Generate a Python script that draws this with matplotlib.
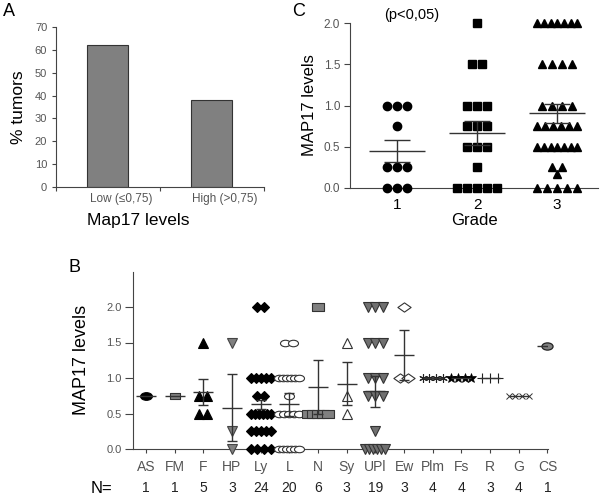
import numpy as np
import matplotlib
matplotlib.use('Agg')
import matplotlib.pyplot as plt
from matplotlib.path import Path
from matplotlib.transforms import Affine2D

plt.rcParams['font.family'] = ['Liberation Sans', 'DejaVu Sans']

# ---------------- data ----------------
# Panel A
a_categories = ['Low (\u22640,75)', 'High (>0,75)']
a_values = [62.0, 38.0]

# Panel C
c_grades = ['1', '2', '3']
c_grade1 = [0, 0, 0, 0.25, 0.25, 0.25, 0.75, 1, 1, 1]
c_grade2 = [0, 0, 0, 0, 0, 0.25, 0.5, 0.5, 0.5, 0.75, 0.75, 0.75,
            1, 1, 1, 1.5, 1.5, 2]
c_grade3 = [0, 0, 0, 0, 0, 0.17, 0.25, 0.25,
            0.5, 0.5, 0.5, 0.5, 0.5, 0.5, 0.5,
            0.75, 0.75, 0.75, 0.75, 0.75, 0.75,
            1, 1, 1, 1, 1.5, 1.5, 1.5, 1.5,
            2, 2, 2, 2, 2, 2, 2]
c_means = [0.45, 0.67, 0.905]
c_sems = [0.135, 0.145, 0.115]

# Panel B
b_categories = ['AS', 'FM', 'F', 'HP', 'Ly', 'L', 'N', 'Sy', 'UPl', 'Ew',
                'Plm', 'Fs', 'R', 'G', 'CS']
b_n = [1, 1, 5, 3, 24, 20, 6, 3, 19, 3, 4, 4, 3, 4, 1]
b_values = [
    [0.75],
    [0.75],
    [1.5, 0.75, 0.75, 0.5, 0.5],
    [1.5, 0.25, 0.0],
    [2, 2, 1, 1, 1, 1, 1, 0.75, 0.75, 0.5, 0.5, 0.5, 0.5, 0.5, 0.5,
     0.25, 0.25, 0.25, 0.25, 0.25, 0, 0, 0, 0],
    [1.5, 1.5, 1, 1, 1, 1, 1, 1, 0.75, 0.5, 0.5, 0.5, 0.5, 0.5,
     0, 0, 0, 0, 0, 0],
    [2, 0.5, 0.5, 0.5, 0.5, 0.5],
    [1.5, 0.75, 0.5],
    [2, 2, 2, 1.5, 1.5, 1.5, 1, 1, 1, 0.75, 0.75, 0.75, 0.25,
     0, 0, 0, 0, 0, 0],
    [2, 1, 1],
    [1, 1, 1, 1],
    [1, 1, 1, 1],
    [1, 1, 1],
    [0.75, 0.75, 0.75, 0.75],
    [1.45],
]
b_means = [0.75, 0.75, 0.80, 0.58, 0.63, 0.63, 0.87, 0.92, 0.81, 1.32,
           1.0, 1.0, 1.0, 0.75, 1.45]
b_sems = [0, 0, 0.18, 0.47, 0.065, 0.16, 0.38, 0.30, 0.22, 0.35,
          0, 0, 0, 0, 0]

# ---------------- helpers ----------------
def swarm(values, spacing, maxspan):
    values = np.asarray(values, float)
    offs = np.zeros(len(values))
    for v in np.unique(values):
        idx = np.where(values == v)[0]
        n = len(idx)
        if n > 1:
            s = min(spacing, maxspan / (n - 1))
            offs[idx] = (np.arange(n) - (n - 1) / 2) * s
    return offs

ellipse = Affine2D().scale(1, 0.65).transform_path(Path.unit_circle())
rect = Path([(-1, -0.65), (1, -0.65), (1, 0.65), (-1, 0.65), (-1, -0.65)],
            [Path.MOVETO, Path.LINETO, Path.LINETO, Path.LINETO, Path.CLOSEPOLY])
wdiamond = Path([(1, 0), (0, 0.7), (-1, 0), (0, -0.7), (1, 0)],
                [Path.MOVETO, Path.LINETO, Path.LINETO, Path.LINETO, Path.CLOSEPOLY])

GREY_TXT = '#555555'
SPINE = '#444444'
LINE = '#333333'

fig = plt.figure(figsize=(6, 4.96), dpi=100)

# ---------------- Panel A ----------------
axA = fig.add_axes([55.5 / 600, 1 - 187 / 496, 208 / 600, 160 / 496])
xa = np.arange(len(a_categories))
axA.bar(xa, a_values, width=0.4, color='#808080', edgecolor='#333333',
        linewidth=0.8)
axA.set_xlim(-0.5, 1.5)
axA.set_ylim(0, 70)
axA.set_yticks(np.arange(0, 71, 10))
axA.set_xticks([-0.5, 0.5, 1.5])
axA.set_xticklabels([])
for s in ['top', 'right']:
    axA.spines[s].set_visible(False)
for s in ['left', 'bottom']:
    axA.spines[s].set_color(SPINE)
axA.tick_params(axis='y', direction='out', length=3, color=SPINE,
                labelsize=8, labelcolor=GREY_TXT, pad=3)
axA.tick_params(axis='x', direction='out', length=3, color=SPINE)
for i, lab in enumerate(a_categories):
    axA.text(i + 0.13, -0.075, lab, transform=axA.get_xaxis_transform(),
             ha='center', va='center', fontsize=8.5, color=GREY_TXT)
axA.set_ylabel('% tumors', fontsize=12.5, labelpad=6)
fig.text(138 / 600, 1 - 221 / 496, 'Map17 levels', ha='center', va='center',
         fontsize=12.5)
fig.text(3 / 600, 1 - 11 / 496, 'A', fontsize=13, ha='left', va='center')

# ---------------- Panel C ----------------
axC = fig.add_axes([350 / 600, 1 - 188 / 496, 248 / 600, 165 / 496])
c_groups = [c_grade1, c_grade2, c_grade3]
c_markers = ['o', 's', '^']
for i, vals in enumerate(c_groups):
    xc = i + 1 + swarm(vals, 0.125, 0.5)
    axC.plot(xc, vals, linestyle='none', marker=c_markers[i], ms=6,
             color='black', clip_on=False, zorder=3)
    m, se = c_means[i], c_sems[i]
    axC.hlines(m, i + 1 - 0.35, i + 1 + 0.35, color=LINE, lw=1, zorder=4)
    axC.vlines(i + 1, m - se, m + se, color=LINE, lw=1, zorder=4)
    axC.hlines([m - se, m + se], i + 1 - 0.16, i + 1 + 0.16, color=LINE,
               lw=1, zorder=4)
axC.set_xlim(0.41, 3.51)
axC.set_ylim(0, 2)
axC.set_yticks([0, 0.5, 1.0, 1.5, 2.0])
axC.set_yticklabels(['0.0', '0.5', '1.0', '1.5', '2.0'])
axC.set_xticks([1, 2, 3])
axC.set_xticklabels(c_grades)
for s in ['top', 'right']:
    axC.spines[s].set_visible(False)
for s in ['left', 'bottom']:
    axC.spines[s].set_color(SPINE)
axC.tick_params(axis='y', direction='out', length=4, color=SPINE,
                labelsize=8.5, labelcolor=GREY_TXT, pad=3)
axC.tick_params(axis='x', direction='out', length=0, labelsize=11,
                labelcolor='black', pad=7)
axC.set_ylabel('MAP17 levels', fontsize=12, labelpad=5)
axC.set_xlabel('Grade', fontsize=12, labelpad=1)
fig.text(412 / 600, 1 - 15 / 496, '(p<0,05)', ha='center', va='center',
         fontsize=10.5)
fig.text(292 / 600, 1 - 11 / 496, 'C', fontsize=13, ha='left', va='center')

# ---------------- Panel B ----------------
axB = fig.add_axes([133 / 600, 1 - 449 / 496, 415 / 600, 177.5 / 496])
b_styles = [
    dict(marker=ellipse, ms=8.5, mfc='black', mec='black', mew=0.8),
    dict(marker=rect, ms=7.5, mfc='#808080', mec='#333333', mew=0.8),
    dict(marker='^', ms=7, mfc='black', mec='black', mew=0.8),
    dict(marker='v', ms=7, mfc='#808080', mec='#444444', mew=0.8),
    dict(marker='D', ms=5.2, mfc='black', mec='black', mew=0.8),
    dict(marker=ellipse, ms=7.2, mfc='white', mec='#333333', mew=0.8),
    dict(marker=rect, ms=8, mfc='#808080', mec='#333333', mew=0.8),
    dict(marker='^', ms=7, mfc='white', mec='#333333', mew=0.8),
    dict(marker='v', ms=7, mfc='#707070', mec='#333333', mew=0.8),
    dict(marker=wdiamond, ms=9.5, mfc='white', mec='#333333', mew=0.8),
    dict(marker=(6, 2, 0), ms=6, mfc='black', mec='#222222', mew=0.8),
    dict(marker='*', ms=7.5, mfc='black', mec='black', mew=0.5),
    dict(marker='+', ms=7, mfc='black', mec='#222222', mew=0.8),
    dict(marker='x', ms=4.5, mfc='black', mec='#333333', mew=0.7),
    dict(marker=ellipse, ms=8.0, mfc='#808080', mec='#222222', mew=0.9),
]
for i, vals in enumerate(b_values):
    xb = i + swarm(vals, 0.27, 0.7)
    axB.plot(xb, vals, linestyle='none', clip_on=False, zorder=3,
             **b_styles[i])
    m, se = b_means[i], b_sems[i]
    axB.hlines(m, i - 0.35, i + 0.35, color=LINE, lw=1, zorder=4)
    if se > 0:
        axB.vlines(i, m - se, m + se, color=LINE, lw=1, zorder=4)
        axB.hlines([m - se, m + se], i - 0.17, i + 0.17, color=LINE, lw=1,
                   zorder=4)
axB.set_xlim(-0.45, 14.02)
axB.set_ylim(0, 2.5)
axB.set_yticks([0, 0.5, 1.0, 1.5, 2.0])
axB.set_yticklabels(['0.0', '0.5', '1.0', '1.5', '2.0'])
axB.set_xticks(np.arange(len(b_categories)))
axB.set_xticklabels(b_categories)
for s in ['top', 'right']:
    axB.spines[s].set_visible(False)
for s in ['left', 'bottom']:
    axB.spines[s].set_color(SPINE)
axB.tick_params(axis='y', direction='out', length=6, color=SPINE,
                labelsize=8, labelcolor=GREY_TXT, pad=2)
axB.tick_params(axis='x', direction='out', length=3, color=SPINE,
                labelsize=10, labelcolor=GREY_TXT, pad=5)
axB.set_ylabel('MAP17 levels', fontsize=13, labelpad=12)
xt = axB.get_xaxis_transform()
axB.text(-1.55, -0.22, 'N=', transform=xt, ha='center', va='center',
         fontsize=12, clip_on=False)
for i, n in enumerate(b_n):
    axB.text(i, -0.22, str(n), transform=xt, ha='center', va='center',
             fontsize=10, color='#222222', clip_on=False)
fig.text(68 / 600, 1 - 268 / 496, 'B', fontsize=13, ha='left', va='center')

fig.savefig('out.png', dpi=100)
